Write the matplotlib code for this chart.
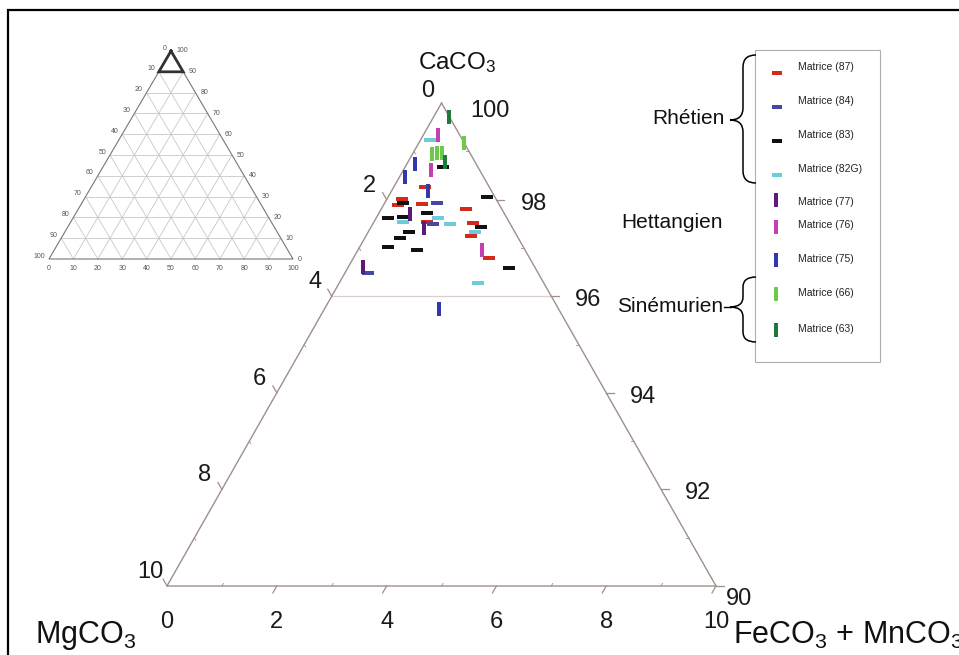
import numpy as np
import matplotlib
matplotlib.use('Agg')
import matplotlib.pyplot as plt
from matplotlib.path import Path
from matplotlib.patches import PathPatch, Rectangle

plt.rcParams['font.family'] = ['Liberation Sans', 'DejaVu Sans']
plt.rcParams['mathtext.fontset'] = 'custom'
plt.rcParams['mathtext.rm'] = 'Liberation Sans'
plt.rcParams['mathtext.default'] = 'regular'

# ---------------- data: MgCO3 % and FeCO3+MnCO3 % (CaCO3 = 100 - both)
labels = ['Matrice (87)', 'Matrice (84)', 'Matrice (83)', 'Matrice (82G)',
          'Matrice (77)', 'Matrice (76)', 'Matrice (75)', 'Matrice (66)', 'Matrice (63)']

mg_87 = [1.17, 1.71, 1.85, 1.40, 0.65, 1.50, 0.67, 0.84, 0.74]
fe_87 = [0.57, 0.27, 0.26, 0.69, 1.54, 0.97, 1.82, 1.91, 2.47]
mg_84 = [1.12, 1.41, 3.10]
fe_84 = [0.95, 1.10, 0.42]
mg_83 = [0.64, 0.14, 1.74, 2.17, 1.88, 1.40, 0.56, 1.93, 2.15, 2.47, 1.97, 0.48]
fe_83 = [0.69, 1.80, 0.33, 0.22, 0.48, 0.88, 2.00, 0.74, 0.64, 0.52, 1.08, 2.94]
mg_82g = [0.59, 1.25, 1.93, 1.10, 0.73, 1.20]
fe_82g = [0.17, 1.13, 0.53, 1.41, 1.95, 2.53]
mg_77 = [1.72, 1.61, 3.13]
fe_77 = [0.58, 0.98, 0.27]
mg_76 = [0.40, 0.89, 0.78]
fe_76 = [0.27, 0.50, 2.26]
mg_75 = [1.11, 1.43, 1.16, 2.18]
fe_75 = [0.15, 0.10, 0.67, 2.09]
mg_66 = [0.00, 0.70, 0.60, 0.51]
fe_66 = [0.83, 0.36, 0.44, 0.52]
mg_63 = [0.01, 0.55]
fe_63 = [0.28, 0.68]

mg_series = [mg_87, mg_84, mg_83, mg_82g, mg_77, mg_76, mg_75, mg_66, mg_63]
fe_series = [fe_87, fe_84, fe_83, fe_82g, fe_77, fe_76, fe_75, fe_66, fe_63]
colors = ['#d32a1c', '#4646a6', '#111111', '#6ccbdc', '#5c1a7a',
          '#c43eb6', '#3238aa', '#6cc94a', '#1f7a3a']
orient = ['h', 'h', 'h', 'h', 'v', 'v', 'v', 'v', 'v']

left_ticks = [0, 2, 4, 6, 8, 10]          # MgCO3
right_ticks = [100, 98, 96, 94, 92, 90]   # CaCO3
bottom_ticks = [0, 2, 4, 6, 8, 10]        # FeCO3 + MnCO3
inset_ticks = list(range(0, 101, 10))
stages = ['Rhétien', 'Hettangien', 'Sinémurien']

W, H = 959, 655
fig = plt.figure(figsize=(W / 100, H / 100), dpi=100)
fig.patch.set_facecolor('white')

# ---------------- main ternary (zoomed corner 90-100 % CaCO3)
XL = (-16.084, 18.852)
YL = (-1.4286, 12.133)
ax = fig.add_axes([0, 0, 1, 1])
ax.set_xlim(*XL)
ax.set_ylim(*YL)
ax.axis('off')
PX = W / (XL[1] - XL[0])
PY = H / (YL[1] - YL[0])


def txy(mg, fe):
    mg = np.asarray(mg, float)
    fe = np.asarray(fe, float)
    ca = 100 - mg - fe
    return fe - mg, ca - 90


edge_c = '#a08e8c'
vx, vy = txy([0, 10, 0, 0], [0, 0, 10, 0])
ax.plot(vx, vy, color=edge_c, lw=1.0, zorder=2)

# grid line at 96 % CaCO3
gx, gy = txy([4, 0], [0, 4])
ax.plot(gx, gy, color='#dcd0cf', lw=0.9, zorder=1)


def tick(x, y, dxp, dyp, lw=0.9):
    ax.plot([x, x + dxp / PX], [y, y + dyp / PY], color=edge_c, lw=lw, zorder=2)


L = 8
fs_tick = 17
l_off = {0: (-14, 12)}
for v in left_ticks:
    x, y = txy(v, 0)
    if v > 0:
        tick(x, y, -0.494 * L, 0.869 * L)
    ax.annotate(str(v), (x, y), xytext=l_off.get(v, (-17, 14)), textcoords='offset pixels',
                ha='center', va='center', fontsize=fs_tick, color='#1a1a1a')
for v in range(1, 10, 2):
    x, y = txy(v, 0)
    tick(x, y, 0.494 * 3, -0.869 * 3, lw=0.6)
    x, y = txy(0, v)
    tick(x, y, -3, 0, lw=0.6)
    x, y = txy(10 - v, v)
    tick(x, y, 0.494 * 3, 0.869 * 3, lw=0.6)

r_off = {100: (29, -8), 90: (10, -13)}
for v in right_ticks:
    x, y = txy(0, 100 - v)
    if v < 100:
        tick(x, y, L, 0)
    off = r_off.get(v, (24, -4))
    ax.annotate(str(v), (x, y), xytext=off, textcoords='offset pixels',
                ha='left', va='center', fontsize=fs_tick, color='#1a1a1a')

for v in bottom_ticks:
    x, y = txy(10 - v, v)
    if v > 0:
        tick(x, y, -0.494 * L, -0.869 * L)
    ax.annotate(str(v), (x, y), xytext=(0, -36), textcoords='offset pixels',
                ha='center', va='center', fontsize=fs_tick, color='#1a1a1a')

# data markers
hbar = Path([(-1, -0.36), (1, -0.36), (1, 0.36), (-1, 0.36), (-1, -0.36)], closed=True)
vbar = Path([(-0.25, -1), (0.25, -1), (0.25, 1), (-0.25, 1), (-0.25, -1)], closed=True)
for mg, fe, c, o in zip(mg_series, fe_series, colors, orient):
    x, y = txy(mg, fe)
    if o == 'h':
        ax.plot(x, y, ls='none', marker=hbar, markersize=8, color=c, mew=0, zorder=4)
    else:
        ax.plot(x, y, ls='none', marker=vbar, markersize=10.5, color=c, mew=0, zorder=4)

# ---------------- overlay in pixel coordinates (frame, legend, braces, titles)
ov = fig.add_axes([0, 0, 1, 1])
ov.set_xlim(0, W)
ov.set_ylim(H, 0)
ov.axis('off')
ov.patch.set_alpha(0)

ov.plot([8, 8, 960], [656, 10, 10], color='black', lw=1.6, solid_joinstyle='miter')

ov.text(418, 63, r'CaCO$_3$', fontsize=17.5, ha='left', va='center', color='#111111')
ov.text(35, 636, r'MgCO$_3$', fontsize=22, ha='left', va='center', color='#111111')
ov.text(733, 635, r'FeCO$_3$ + MnCO$_3$', fontsize=22, ha='left', va='center', color='#111111')

# legend box
ov.add_patch(Rectangle((755, 50), 125, 312, fill=False, ec='#b4acac', lw=0.8))
leg_text_y = [67, 101, 135, 169, 202, 225, 259, 293, 329]
leg_mark_y = [73, 107, 141, 175, 200, 227, 260, 294, 330]
for lab, c, o, ty, my in zip(labels, colors, orient, leg_text_y, leg_mark_y):
    if o == 'h':
        ov.plot([777], [my], ls='none', marker=hbar, markersize=6.5, color=c, mew=0)
    else:
        ov.plot([776], [my], ls='none', marker=vbar, markersize=10.5, color=c, mew=0)
    ov.text(798, ty, lab, fontsize=7.5, ha='left', va='center', color='#222222')


def brace(x_r, x_m, x_tip, y0, y1, ym, c=12):
    verts = [(x_r, y0), (x_m, y0), (x_m, y0 + c),
             (x_m, ym - c), (x_m, ym), (x_tip, ym),
             (x_m, ym), (x_m, ym + c),
             (x_m, y1 - c), (x_m, y1), (x_r, y1)]
    codes = [Path.MOVETO, Path.CURVE3, Path.CURVE3,
             Path.LINETO, Path.CURVE3, Path.CURVE3,
             Path.CURVE3, Path.CURVE3,
             Path.LINETO, Path.CURVE3, Path.CURVE3]
    ov.add_patch(PathPatch(Path(verts, codes), fill=False, ec='black', lw=1.1))


brace(756, 743, 730, 55, 183, 120)
brace(756, 743, 730, 277, 342, 307, c=10)
ov.plot([724, 731], [307, 307], color='black', lw=1.0)

ov.text(725, 118, stages[0], fontsize=15, ha='right', va='center', color='#111111')
ov.text(723, 223, stages[1], fontsize=15, ha='right', va='center', color='#111111')
ov.text(723, 307, stages[2], fontsize=15, ha='right', va='center', color='#111111')

# ---------------- inset: full ternary diagram
ix0, ix1, iy0, iy1 = 20, 320, 30, 280
bl, br, top_y, base_y = 49, 293, 51, 259
ia = fig.add_axes([ix0 / W, 1 - iy1 / H, (ix1 - ix0) / W, (iy1 - iy0) / H])
sx = br - bl
sy = base_y - top_y
ia.set_xlim((ix0 - bl) / sx, (ix1 - bl) / sx)
ia.set_ylim((base_y - iy1) / sy, (base_y - iy0) / sy)
ia.axis('off')
ia.patch.set_alpha(0)


def ixy(ca, fe):
    ca = np.asarray(ca, float)
    fe = np.asarray(fe, float)
    return (fe + ca / 2) / 100, ca / 100


for k in inset_ticks[1:-1]:
    for (a1, f1), (a2, f2) in [((k, 0), (k, 100 - k)),              # const Ca
                               ((100 - k, 0), (0, 100 - k)),        # const Mg
                               ((100 - k, k), (0, k))]:             # const Fe
        x, y = ixy([a1, a2], [f1, f2])
        ia.plot(x, y, color='#c8c8c8', lw=0.6)
x, y = ixy([100, 0, 0, 100], [0, 0, 100, 0])
ia.plot(x, y, color='#777777', lw=0.8)
x, y = ixy([100, 90, 90, 100], [0, 0, 10, 0])
ia.plot(x, y, color='#333333', lw=2.0, solid_joinstyle='miter')

for v in inset_ticks:
    x, y = ixy(100 - v, 0)
    ia.annotate(str(v), (x, y), xytext=(-4, 3), textcoords='offset pixels',
                ha='right', va='center', fontsize=5, color='#555555')
    x, y = ixy(v, 100 - v)
    ia.annotate(str(v), (x, y), xytext=(5, 0), textcoords='offset pixels',
                ha='left', va='center', fontsize=5, color='#555555')
    x, y = ixy(0, v)
    ia.annotate(str(v), (x, y), xytext=(0, -9), textcoords='offset pixels',
                ha='center', va='center', fontsize=5, color='#555555')

fig.savefig('out.png', dpi=100, facecolor='white')
